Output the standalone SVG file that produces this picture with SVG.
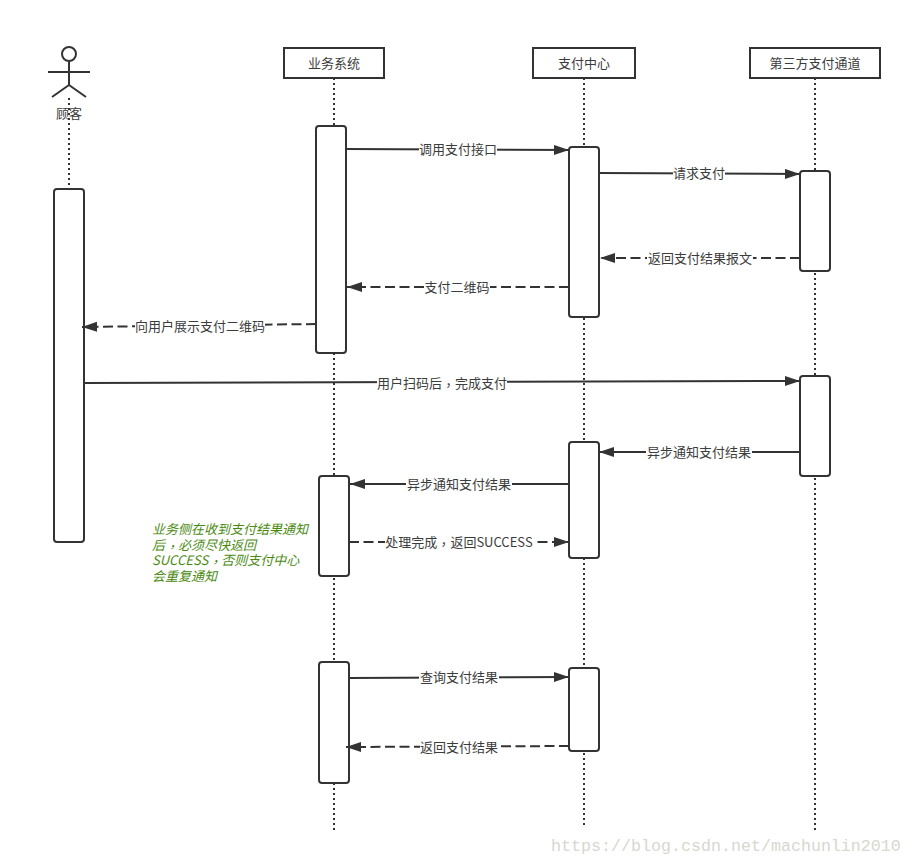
<svg xmlns="http://www.w3.org/2000/svg" width="912" height="865" viewBox="0 0 912 865">
<style>
text{font-family:"Noto Sans CJK SC","Liberation Sans",sans-serif;font-size:13px;fill:#3c3c3c;text-anchor:middle}
.c{font-family:"Noto Sans CJK TC",sans-serif}
.life{stroke:#333;stroke-width:2;stroke-dasharray:2 3;fill:none}
.act{fill:#fff;stroke:#333;stroke-width:2}
.box{fill:#fff;stroke:#333;stroke-width:2}
.m{stroke:#333;stroke-width:2;fill:none}
.d{stroke-dasharray:10 4.5}
.l{fill:#fff;stroke:none}
.note{font-style:italic;fill:#4a8a10;text-anchor:start}
.wm{font-family:"Liberation Mono","DejaVu Sans Mono",monospace;font-size:16.67px;fill:#d8d7d0;text-anchor:start}
</style>
<defs><marker id="a" markerUnits="userSpaceOnUse" markerWidth="16" markerHeight="12" refX="15" refY="5" orient="auto"><path d="M0 0L15 5L0 10Z" fill="#333"/></marker></defs>
<rect width="912" height="865" fill="#fff"/>
<g id="lifelines">
<path class="life" d="M69 98V188"/>
<path class="life" d="M334 78V830"/>
<path class="life" d="M584 78V826"/>
<path class="life" d="M815 78V830"/>
</g>
<g id="actor-customer" fill="none" stroke="#333" stroke-width="2">
<circle cx="69" cy="54" r="7"/>
<path d="M69 61V85M48 72H90M69 85L52 97M69 85L86 97"/>
<text x="69" y="118" stroke="none">顾客</text>
</g>
<g id="node-business"><rect class="box" x="284" y="48" width="100" height="30"/><text x="334" y="68">业务系统</text></g>
<g id="node-paycenter"><rect class="box" x="533" y="48" width="102" height="30"/><text x="584" y="68">支付中心</text></g>
<g id="node-channel"><rect class="box" x="750" y="48" width="130" height="30"/><text x="815" y="68">第三方支付通道</text></g>
<g id="activations">
<rect class="act" x="54" y="189" width="30" height="353" rx="3"/>
<rect class="act" x="316" y="126" width="30" height="227" rx="3"/>
<rect class="act" x="569" y="147" width="30" height="170" rx="3"/>
<rect class="act" x="800" y="171" width="30" height="100" rx="3"/>
<rect class="act" x="800" y="376" width="30" height="100" rx="3"/>
<rect class="act" x="569" y="442" width="30" height="116" rx="3"/>
<rect class="act" x="319" y="476" width="30" height="100" rx="3"/>
<rect class="act" x="319" y="662" width="30" height="121" rx="3"/>
<rect class="act" x="569" y="668" width="30" height="83" rx="3"/>
</g>
<g id="connectors">
<path class="m" marker-end="url(#a)" d="M346 149L569 150"/>
<path class="m" marker-end="url(#a)" d="M599 173L800 174"/>
<path class="m d" marker-end="url(#a)" d="M800 258H600"/>
<path class="m d" marker-end="url(#a)" d="M569 287H347"/>
<path class="m d" marker-end="url(#a)" d="M316 324L82 327"/>
<path class="m" marker-end="url(#a)" d="M84 383L800 381"/>
<path class="m" marker-end="url(#a)" d="M800 452H599"/>
<path class="m" marker-end="url(#a)" d="M569 484H350"/>
<path class="m d" marker-end="url(#a)" d="M349 542H569"/>
<path class="m" marker-end="url(#a)" d="M349 678L569 677"/>
<path class="m d" marker-end="url(#a)" d="M569 746L346 747"/>
</g>
<g id="labels">
<rect class="l" x="419" y="141" width="78" height="18"/><text x="458" y="154">调用支付接口</text>
<rect class="l" x="673" y="165" width="52" height="18"/><text x="699" y="178">请求支付</text>
<rect class="l" x="647" y="249" width="106" height="18"/><text x="700" y="263">返回支付结果报文</text>
<rect class="l" x="424" y="278" width="66" height="18"/><text x="457" y="292">支付二维码</text>
<rect class="l" x="135" y="317" width="130" height="18"/><text x="200" y="331">向用户展示支付二维码</text>
<rect class="l" x="377" y="374" width="130" height="18"/><text x="442" y="388">用户扫码后<tspan class="c" dy="2">，</tspan><tspan dy="-2">完成支付</tspan></text>
<rect class="l" x="646" y="443" width="106" height="18"/><text x="699" y="457">异步通知支付结果</text>
<rect class="l" x="406" y="475" width="106" height="18"/><text x="459" y="489">异步通知支付结果</text>
<rect class="l" x="385" y="533" width="149" height="18"/><text x="459" y="547">处理完成<tspan class="c" dy="2">，</tspan><tspan dy="-2">返回SUCCESS</tspan></text>
<rect class="l" x="419" y="668" width="80" height="18"/><text x="459" y="682">查询支付结果</text>
<rect class="l" x="420" y="738" width="79" height="18"/><text x="459" y="752">返回支付结果</text>
</g>
<g id="note">
<text class="note" x="152" y="534">业务侧在收到支付结果通知</text>
<text class="note" x="152" y="550">后<tspan class="c" dy="2">，</tspan><tspan dy="-2">必须尽快返回</tspan></text>
<text class="note" x="152" y="565">SUCCESS<tspan class="c" dy="2">，</tspan><tspan dy="-2">否则支付中心</tspan></text>
<text class="note" x="152" y="581">会重复通知</text>
</g>
<text class="wm" x="551" y="851">https://blog.csdn.net/machunlin2010</text>
</svg>
